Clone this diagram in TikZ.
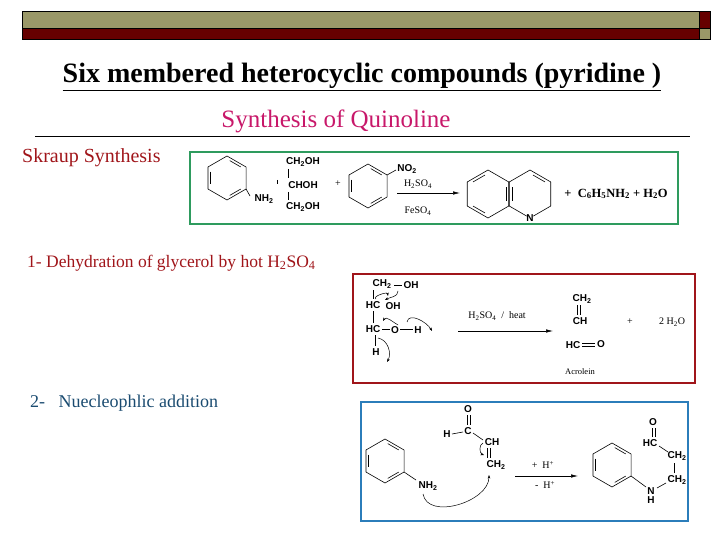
\documentclass[tikz,border=0pt]{standalone}
\usepackage{fontspec}
\setmainfont{Liberation Serif}
\setsansfont{Liberation Sans}
\usetikzlibrary{calc,arrows.meta}
\definecolor{olive}{HTML}{9A9868}
\definecolor{dred}{HTML}{660000}
\definecolor{bred}{HTML}{A0151A}
\definecolor{gbox}{HTML}{2E9B5E}
\definecolor{bbox}{HTML}{2B7DBA}
\definecolor{mag}{HTML}{C8186A}
\newcommand\hexa[4]{%
 \draw (#1,#2) +(30:#3pt) -- +(90:#3pt) -- +(150:#3pt) -- +(210:#3pt) -- +(270:#3pt) -- +(330:#3pt) -- cycle;
 \foreach \a in {#4} \draw ($(#1,#2)+(\a+9:0.8*#3pt)$) -- ($(#1,#2)+(\a+51:0.8*#3pt)$);}
\begin{document}
\begin{tikzpicture}[x=1pt,y=-1pt,
 ch/.style={font=\sffamily\bfseries\fontsize{10}{11}\selectfont,inner sep=0.5pt},
 chs/.style={font=\fontsize{10}{11}\selectfont,inner sep=0.5pt},
 lbl/.style={font=\fontsize{17.5}{20}\selectfont,anchor=west,inner sep=0pt},
 bond/.style={line width=0.6pt},
 rarr/.style={-{Latex[length=7pt,width=3.5pt]},line width=0.6pt},
 carr/.style={-{Stealth[length=3.5pt]},line width=0.5pt}]
\useasboundingbox (0,0) rectangle (720,540);
% top bar
\fill[olive] (22,12) rectangle (699,29);
\fill[dred] (22,29) rectangle (699,40);
\fill[dred] (699,12) rectangle (710,29);
\fill[olive] (699,29) rectangle (710,40);
\draw[line width=1pt] (22,12) rectangle (710,40) (22,29) -- (710,29) (699,12) -- (699,40);
% titles
\node[font=\bfseries\fontsize{28}{32}\selectfont] (title) at (362,77) {\underline{Six membered heterocyclic compounds (pyridine )}};
\node[font=\fontsize{25}{28}\selectfont,text=mag] (sub) at (336,121) {Synthesis of Quinoline};
\draw[line width=0.8pt] (35,136) -- (690,136);
\node[lbl,text=bred,font=\fontsize{20}{24}\selectfont] (sk) at (22,158) {Skraup Synthesis};
\node[lbl,text=bred] (s1) at (27,263) {1- Dehydration of glycerol by hot H\textsubscript{2}SO\textsubscript{4}};
\node[lbl,text=bbox!60!black,font=\fontsize{18}{22}\selectfont] (s2) at (30,403) {2-\ \ \ Nuecleophlic addition};
% boxes
\draw[gbox,line width=1.5pt] (190,152) rectangle (678,224);
\draw[bred,line width=1.5pt] (353,274) rectangle (695,383);
\draw[bbox,line width=1.5pt] (361,402) rectangle (688,521);
% ---- box 1
\begin{scope}[bond]
\hexa{227}{178}{22}{30,150,270}
\draw ($(227,178)+(330:22pt)$) -- (250,196);
\node[ch] at (264,199) {NH\textsubscript{2}};
\node[ch] (g1) at (303,162) {CH\textsubscript{2}OH};
\node[ch] (g2) at (303,185) {CHOH};
\node[ch] (g3) at (303,207) {CH\textsubscript{2}OH};
\draw (288,169) -- (288,178) (288,192) -- (288,200);
\draw[line width=0.4pt] (277,180) -- (277,184);
\node[chs] at (338,184) {+};
\hexa{368}{186}{22}{30,150,270}
\draw ($(368,186)+(30:22pt)$) -- (396,170);
\node[ch] at (407,169) {NO\textsubscript{2}};
\draw[rarr] (397,193) -- (460,193);
\node[chs] at (418,184) {H\textsubscript{2}SO\textsubscript{4}};
\node[chs] at (418,211) {FeSO\textsubscript{4}};
\hexa{488}{194}{24}{90,210,330}
\hexa{530}{194}{24}{30,150}
\fill[white] (530,218) circle (4pt);
\node[ch] at (530,218) {N};
\node[font=\bfseries\fontsize{12.5}{15}\selectfont] at (616,194) {+\ \ C\textsubscript{6}H\textsubscript{5}NH\textsubscript{2} + H\textsubscript{2}O};
% ---- box 2
\node[ch] at (382,284) {CH\textsubscript{2}};
\draw (394,285) -- (402,285);
\node[ch] at (411,285) {OH};
\node[ch] at (373,305) {HC};
\node[ch] at (393,306) {OH};
\node[ch] at (373,329) {HC};
\node[ch] at (395,330) {O};
\node[ch] at (418,330) {H};
\draw (382,329) -- (390,329) (400,329) -- (413,329);
\draw (373,290) -- (373,299) (373,311) -- (373,323) (375,335) -- (375,346);
\node[ch] at (376,352) {H};
\draw[carr] (398,291) to[out=-90,in=30] (385,300);
\draw[carr] (376,299) to[out=150,in=100] (388,296);
\draw[carr] (398,325) to[out=150,in=60] (383,321);
\draw[carr] (407,322) to[out=80,in=120] (432,331);
\draw[carr] (378,338) to[out=-10,in=60] (387,362);
\draw[rarr] (458,331) -- (553,331);
\node[chs] at (497,316) {H\textsubscript{2}SO\textsubscript{4}\ \ /\ \ heat};
\node[ch] at (582,299) {CH\textsubscript{2}};
\node[ch] at (580,321) {CH};
\node[ch] at (573,345) {HC};
\node[ch] at (601,344) {O};
\draw (577,305) -- (577,315) (580,305) -- (580,315);
\draw (582,343) -- (595,343) (582,346) -- (595,346);
\node[chs] at (630,322) {+};
\node[chs] at (672,322) {2 H\textsubscript{2}O};
\node[chs,font=\fontsize{8.5}{10}\selectfont] at (580,372) {Acrolein};
% ---- box 3
\hexa{385}{461}{22}{30,150,270}
\draw ($(385,461)+(330:22pt)$) -- (416,480);
\node[ch] at (428,486) {NH\textsubscript{2}};
\node[ch] at (468,409) {O};
\node[ch] at (468,431) {C};
\node[ch] at (447,434) {H};
\draw (467,415) -- (467,425) (470,415) -- (470,425);
\draw (452,434) -- (463,432) (473,433) -- (483,440);
\node[ch] at (492,442) {CH};
\draw (487,448) -- (487,458) (490,448) -- (490,458);
\node[ch] at (496,465) {CH\textsubscript{2}};
\draw[carr] (483,443) to[out=200,in=160] (484,455);
\draw[carr] (423,494) to[out=-80,in=-90] (489,475);
\draw[rarr] (515,476) -- (578,476);
\node[chs] at (543,465) {+\ \ H\textsuperscript{+}};
\node[chs] at (545,485) {-\ \ H\textsuperscript{+}};
\hexa{612}{465}{22}{30,150,270}
\draw ($(612,465)+(330:22pt)$) -- (646,487);
\node[ch] at (651,491) {N};
\node[ch] at (651,500) {H};
\draw (657,488) -- (666,483);
\node[ch] at (677,480) {CH\textsubscript{2}};
\draw (674,473) -- (674,463);
\node[ch] at (677,456) {CH\textsubscript{2}};
\draw (668,452) -- (659,446);
\node[ch] at (650,443) {HC};
\draw (652,437) -- (652,428) (655,437) -- (655,428);
\node[ch] at (653,422) {O};
\end{scope}
\end{tikzpicture}
\end{document}
